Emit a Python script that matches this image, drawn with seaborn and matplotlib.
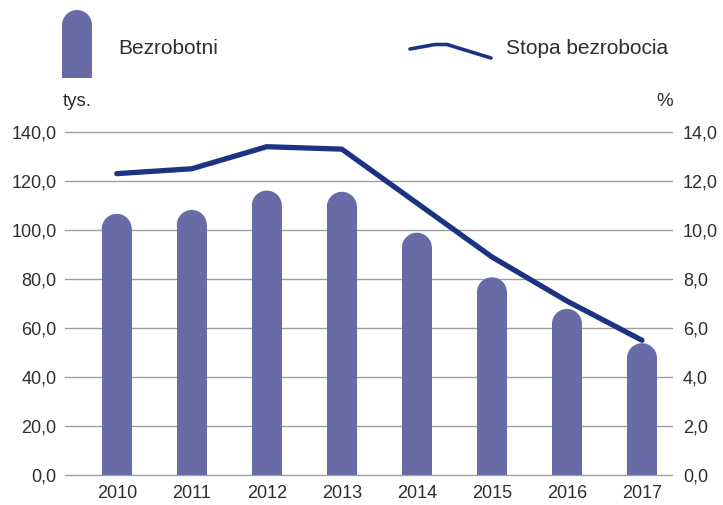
import numpy as np
import pandas as pd
import matplotlib
matplotlib.use("Agg")
import matplotlib.pyplot as plt
import seaborn as sns
from matplotlib.patches import Ellipse, FancyBboxPatch
from matplotlib.lines import Line2D

sns.set_theme(style="white")
plt.rcParams['font.family'] = ['Liberation Sans', 'DejaVu Sans']

years = ["2010", "2011", "2012", "2013", "2014", "2015", "2016", "2017"]
bezrobotni = [106.6, 108.2, 116.1, 115.6, 98.9, 80.7, 67.8, 53.8]
stopa = [12.3, 12.5, 13.4, 13.3, 11.1, 8.9, 7.1, 5.5]
left_ticks = [0, 20, 40, 60, 80, 100, 120, 140]
right_ticks = [0, 2, 4, 6, 8, 10, 12, 14]

bar_color = "#676ca7"
line_color = "#1c3383"
text_color = "#2e2e2e"
grid_color = "#a0a0a0"
fs = 13

df = pd.DataFrame({"Rok": years, "Bezrobotni": bezrobotni,
                   "pos": np.arange(len(years)), "Stopa": stopa})

W, H = 723, 505
fig = plt.figure(figsize=(W / 100, H / 100), dpi=100)
ax_rect = [65 / W, 1 - 475 / H, (672 - 65) / W, (475 - 132) / H]
ax = fig.add_axes(ax_rect)

xlim = (-0.69, 7.4)
ylim = (0, 140)

sns.barplot(data=df, x="Rok", y="Bezrobotni", color=bar_color, saturation=1,
            width=0.4, ax=ax, zorder=2)
ax.set_xlim(*xlim)
ax.set_ylim(*ylim)

# rounded tops on the bars
ppx = ax_rect[2] * W / (xlim[1] - xlim[0])
ppy = ax_rect[3] * H / (ylim[1] - ylim[0])
for p in list(ax.patches):
    x0, w, h = p.get_x(), p.get_width(), p.get_height()
    ry = (w / 2) * ppx / ppy
    p.set_height(h - ry)
    p.set_linewidth(0)
    ax.add_patch(Ellipse((x0 + w / 2, h - ry), w, 2 * ry, color=bar_color,
                         lw=0, zorder=2))

ax.set_yticks(left_ticks)
ax.set_yticklabels([f"{v:.1f}".replace(".", ",") for v in left_ticks])
ax.grid(axis="y", color=grid_color, lw=1, zorder=0)
for gl in ax.get_ygridlines():
    gl.set_clip_on(False)
ax.set_axisbelow(True)
ax.tick_params(axis="both", length=0, labelsize=fs, colors=text_color)
ax.tick_params(axis="y", pad=6)
ax.tick_params(axis="x", pad=7)
ax.set_xlabel("")
ax.set_ylabel("")
for s in ax.spines.values():
    s.set_visible(False)

ax2 = ax.twinx()
sns.lineplot(data=df, x="pos", y="Stopa", color=line_color, lw=3.8, ax=ax2,
             solid_capstyle="round", zorder=3)
ax2.set_ylim(0, 14)
ax2.set_xlim(*xlim)
ax2.set_yticks(right_ticks)
ax2.set_yticklabels([f"{v:.1f}".replace(".", ",") for v in right_ticks])
ax2.tick_params(axis="y", length=0, labelsize=fs, colors=text_color, pad=8)
ax2.set_ylabel("")
ax2.grid(False)
for s in ax2.spines.values():
    s.set_visible(False)

# axis unit labels
fig.text(77 / W, 1 - 101 / H, "tys.", ha="center", va="center",
         fontsize=fs + 0.5, color=text_color)
fig.text(665 / W, 1 - 101 / H, "%", ha="center", va="center",
         fontsize=fs + 0.5, color=text_color)

# legend
icon_w = 30 / W
fig.patches.append(FancyBboxPatch((62 / W, 1 - 78 / H), icon_w, 53 / H,
                                  boxstyle="square,pad=0", transform=fig.transFigure,
                                  color=bar_color, lw=0))
fig.patches.append(Ellipse((77 / W, 1 - 25 / H), icon_w, 30 / H,
                           transform=fig.transFigure, color=bar_color, lw=0))
fig.text(118 / W, 1 - 48 / H, "Bezrobotni", ha="left", va="center",
         fontsize=15, color=text_color)
fig.lines.append(Line2D([410 / W, 435 / W, 447 / W, 491 / W],
                        [1 - 49 / H, 1 - 44.5 / H, 1 - 44.5 / H, 1 - 58 / H],
                        transform=fig.transFigure, color=line_color, lw=2.6))
fig.text(506 / W, 1 - 48 / H, "Stopa bezrobocia", ha="left", va="center",
         fontsize=15, color=text_color)

fig.savefig("out.png", dpi=100)
